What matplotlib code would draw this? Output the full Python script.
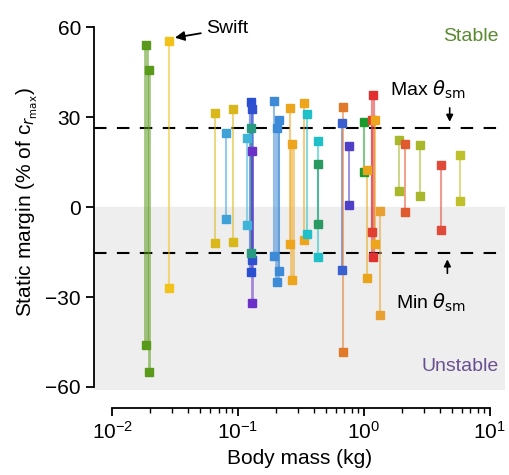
import matplotlib.pyplot as plt

plt.rcParams["font.family"] = ["Liberation Sans", "DejaVu Sans"]

# body mass (kg), top and bottom static margin (% of c_rmax), colour, line width
mass = [0.0186, 0.0195, 0.0282, 0.0656, 0.0798, 0.0908, 0.117,
        0.126, 0.129, 0.127, 0.130,
        0.192, 0.203, 0.213, 0.259, 0.270, 0.336, 0.350,
        0.434, 0.434, 0.668, 0.685, 0.76, 1.0, 1.06,
        1.16, 1.19, 1.23, 1.34, 1.9, 2.11, 2.8, 4.1, 5.8]
sm_top = [54.1, 45.6, 55.4, 31.4, 24.6, 32.7, 22.9,
          35.1, 32.6, 26.3, 18.8,
          35.3, 26.3, 29.1, 32.9, 21.0, 34.6, 31.2,
          22.1, 14.4, 28.1, 33.3, 20.4, 28.4, 12.3,
          29.0, 37.4, 29.2, -1.3, 22.3, 21.2, 20.6, 13.9, 17.4]
sm_bot = [-46.0, -54.9, -27.1, -12.1, -4.0, -11.8, -6.0,
          -21.8, -17.7, -15.4, -32.1,
          -16.2, -25.1, -21.3, -12.2, -24.4, -11.1, -9.1,
          -16.6, -5.7, -20.9, -48.2, 0.7, 11.7, -23.8,
          -8.2, -16.7, -12.4, -35.9, 5.3, -1.7, 3.7, -7.7, 1.9]
colors = ["#5a9a1a", "#5a9a1a", "#f2c21b", "#d9b81c", "#3fa2d6", "#d9b81c", "#3fb4d8",
          "#2a4fd0", "#3050d0", "#2a9a80", "#6a30c8",
          "#3d8ad6", "#3d8ad6", "#3d8ad6", "#eca51c", "#eca51c", "#eca51c", "#20c0c8",
          "#20c0c8", "#2a9a60", "#3a60d0", "#e07a2a", "#5040c8", "#1a9a2a", "#e8a51c",
          "#e04030", "#e03030", "#eca51c", "#e8a030", "#a8b82a", "#e05a30", "#a8b82a", "#e04a3a", "#c0c02a"]
widths = [3.5, 2, 1.5, 1.5, 1.5, 1.5, 1.5,
          3, 2, 1.5, 2,
          1.5, 3.5, 1.5, 1.5, 3.5, 1.5, 1.5,
          1.5, 1.5, 1.5, 1.5, 1.5, 1.5, 1.5,
          1.5, 3, 1.5, 1.5, 1.5, 1.5, 1.5, 1.5, 1.5]
max_sm = 26.3
min_sm = -15.3
minor_x = [k * 10.0 ** e for e in (-2, -1, 0) for k in range(2, 10)]

fig = plt.figure(figsize=(5.09, 4.75), dpi=100)
ax = fig.add_axes([0.185, 0.179, 0.807, 0.789])
ax.set_xscale("log")
ax.set_xlim(10 ** -2.143, 10 ** 1.12)
ax.set_ylim(-61, 64)

ax.axhspan(-61, 0, color="#eeeeee", zorder=0)
ax.axhline(max_sm, color="black", lw=1.5, dashes=(6, 5), zorder=1)
ax.axhline(min_sm, color="black", lw=1.5, dashes=(6, 5), zorder=1)

for m, t, b, c, w in zip(mass, sm_top, sm_bot, colors, widths):
    ax.plot([m, m], [t, b], color=c, lw=w, alpha=0.55, zorder=2)
    ax.plot([m, m], [t, b], "s", color=c, ms=5.5, zorder=3)

for s in ["top", "right"]:
    ax.spines[s].set_visible(False)
ax.spines["left"].set_bounds(-60, 60)
ax.spines["bottom"].set_bounds(1e-2, 1e1)
ax.spines["bottom"].set_position(("outward", 13))
ax.spines["left"].set_linewidth(1.3)
ax.spines["bottom"].set_linewidth(1.3)
ax.set_yticks([-60, -30, 0, 30, 60])
ax.set_xticks([1e-2, 1e-1, 1e0, 1e1])
ax.set_xticks(minor_x, minor=True)
ax.tick_params(labelsize=15, width=1.3, length=6)
ax.tick_params(which="minor", width=1, length=3.5)
ax.set_xlabel("Body mass (kg)", fontsize=15)
ax.set_ylabel(r"Static margin (% of c$_{r_{\mathrm{max}}}$)", fontsize=15)

ax.text(0.985, 0.93, "Stable", transform=ax.transAxes, ha="right", fontsize=14, color="#5a8a30")
ax.text(0.985, 0.05, "Unstable", transform=ax.transAxes, ha="right", fontsize=14, color="#6a5090")
ax.annotate("Swift", xy=(0.0315, 56.5), xytext=(0.056, 59.5), fontsize=14, va="center",
            arrowprops=dict(arrowstyle="-|>", color="black", lw=1.3, shrinkA=2, shrinkB=0))
ax.text(3.2, 37, r"Max $\theta_{\mathrm{sm}}$", fontsize=14, ha="center")
ax.annotate("", xy=(4.8, 27.5), xytext=(4.8, 34), arrowprops=dict(arrowstyle="-|>", color="black", lw=1.2))
ax.text(3.4, -34, r"Min $\theta_{\mathrm{sm}}$", fontsize=14, ha="center")
ax.annotate("", xy=(4.6, -16.5), xytext=(4.6, -23), arrowprops=dict(arrowstyle="-|>", color="black", lw=1.2))

fig.savefig("out.png", dpi=100)
